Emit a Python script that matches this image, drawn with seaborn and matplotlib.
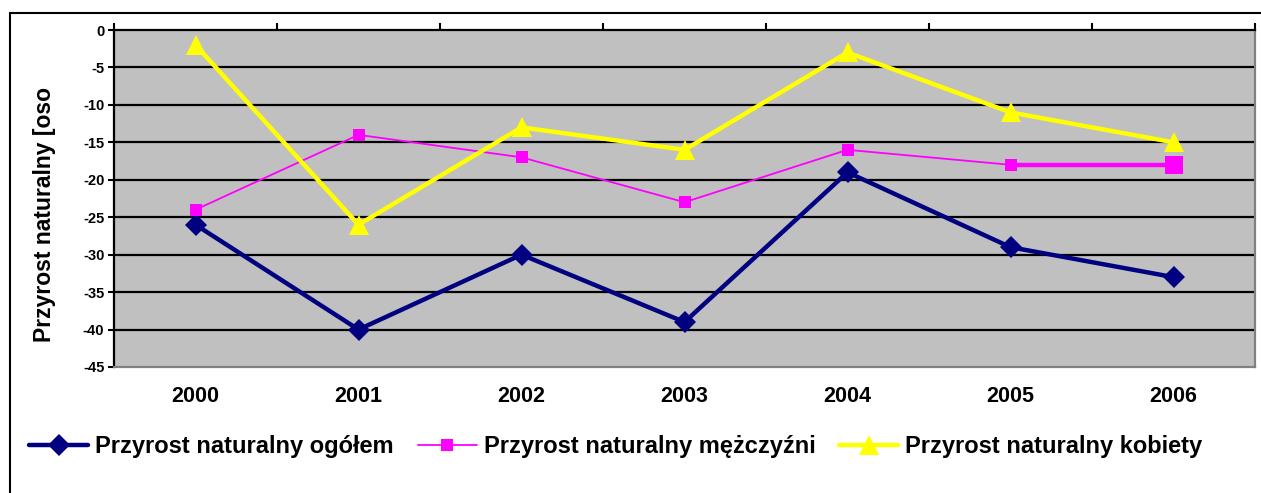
import matplotlib
matplotlib.use("Agg")
import matplotlib.pyplot as plt
import seaborn as sns
import pandas as pd
from matplotlib.patches import Rectangle
from matplotlib.lines import Line2D

years = ["2000", "2001", "2002", "2003", "2004", "2005", "2006"]
ogolem = [-26, -40, -30, -39, -19, -29, -33]
mezczyzni = [-24, -14, -17, -23, -16, -18, -18]
kobiety = [-2, -26, -13, -16, -3, -11, -15]
yticks = [0, -5, -10, -15, -20, -25, -30, -35, -40, -45]

labels = ["Przyrost naturalny ogółem", "Przyrost naturalny mężczyźni", "Przyrost naturalny kobiety"]

sns.set_theme(style="white")
plt.rcParams["font.family"] = ["Liberation Sans", "DejaVu Sans"]
plt.rcParams["axes.unicode_minus"] = False
for k in ["text.color", "axes.labelcolor", "xtick.color", "ytick.color"]:
    plt.rcParams[k] = "black"

fig = plt.figure(figsize=(12.61, 4.93), dpi=100)
W, H = 1261, 493
ax = fig.add_axes([114 / W, 1 - 367 / H, (1255 - 114) / W, (367 - 30) / H])
ax.set_facecolor("#C0C0C0")

df = pd.DataFrame({"rok": years, "ogolem": ogolem, "mezczyzni": mezczyzni, "kobiety": kobiety})

for y in yticks[1:-1]:
    ax.axhline(y, color="black", lw=1.6, zorder=1)

sns.lineplot(data=df, x="rok", y="ogolem", ax=ax, color="#000080", lw=3.2,
             marker="D", markersize=11, markeredgewidth=0, zorder=3, sort=False)
sns.lineplot(data=df, x="rok", y="mezczyzni", ax=ax, color="#FF00FF", lw=1.3,
             marker="s", markersize=8, markeredgewidth=0, zorder=4, sort=False)
# last segment highlighted (thicker line and larger final marker)
tail = df.iloc[-2:]
sns.lineplot(data=tail, x="rok", y="mezczyzni", ax=ax, color="#FF00FF", lw=3.2,
             zorder=4, sort=False)
ax.plot([tail["rok"].iloc[-1]], [tail["mezczyzni"].iloc[-1]], marker="s", color="#FF00FF",
        markersize=13, markeredgewidth=0, zorder=5)
sns.lineplot(data=df, x="rok", y="kobiety", ax=ax, color="#FFFF00", lw=3.2,
             marker="^", markersize=15, markeredgewidth=0, zorder=5, sort=False)

ax.set_xlim(-0.5, len(years) - 0.5)
ax.set_ylim(-45, 0)
ax.set_yticks(yticks)
ax.set_yticklabels([str(v) for v in yticks], fontsize=10.5, fontweight="bold")
ax.set_xticks(range(len(years)))
ax.set_xticklabels(years, fontsize=15.5, fontweight="bold")
ax.set_xticks([i + 0.5 for i in range(-1, len(years))], minor=True)
ax.tick_params(axis="x", which="major", bottom=False, top=False, labelbottom=True, pad=8, colors="black")
ax.tick_params(axis="x", which="minor", bottom=False, top=True, direction="out", length=5, width=1.5, color="black")
ax.tick_params(axis="y", which="major", left=True, direction="out", length=4, width=1.5, pad=3, colors="black")
ax.set_xlabel("")
ax.set_ylabel("")

for s in ["left", "top"]:
    ax.spines[s].set_color("black")
    ax.spines[s].set_linewidth(1.6)
for s in ["bottom", "right"]:
    ax.spines[s].set_color("#808080")
    ax.spines[s].set_linewidth(1.6)
    ax.spines[s].set_visible(True)

fig.text(45 / W, 1 - 215 / H, "Przyrost naturalny [oso", rotation=90, fontsize=16.5,
         fontweight="bold", ha="center", va="center", color="black")

# outer chart frame
fig.patches.append(Rectangle((10 / W, -0.1), 1.2, 1 - 13 / H + 0.1, transform=fig.transFigure,
                             fill=False, edgecolor="black", lw=1.5))

handles = [
    Line2D([], [], color="#000080", lw=3.2, marker="D", markersize=11, markeredgewidth=0),
    Line2D([], [], color="#FF00FF", lw=1.3, marker="s", markersize=8, markeredgewidth=0),
    Line2D([], [], color="#FFFF00", lw=3.2, marker="^", markersize=15, markeredgewidth=0),
]
fig.legend(handles, labels, loc="center left", bbox_to_anchor=(8 / W, 1 - 447 / H), ncol=3,
           frameon=False, handlelength=2.5, handletextpad=0.3, columnspacing=1.0,
           labelcolor="black",
           prop={"family": "Liberation Sans", "weight": "bold", "size": 17})

fig.savefig("out.png", dpi=100)
